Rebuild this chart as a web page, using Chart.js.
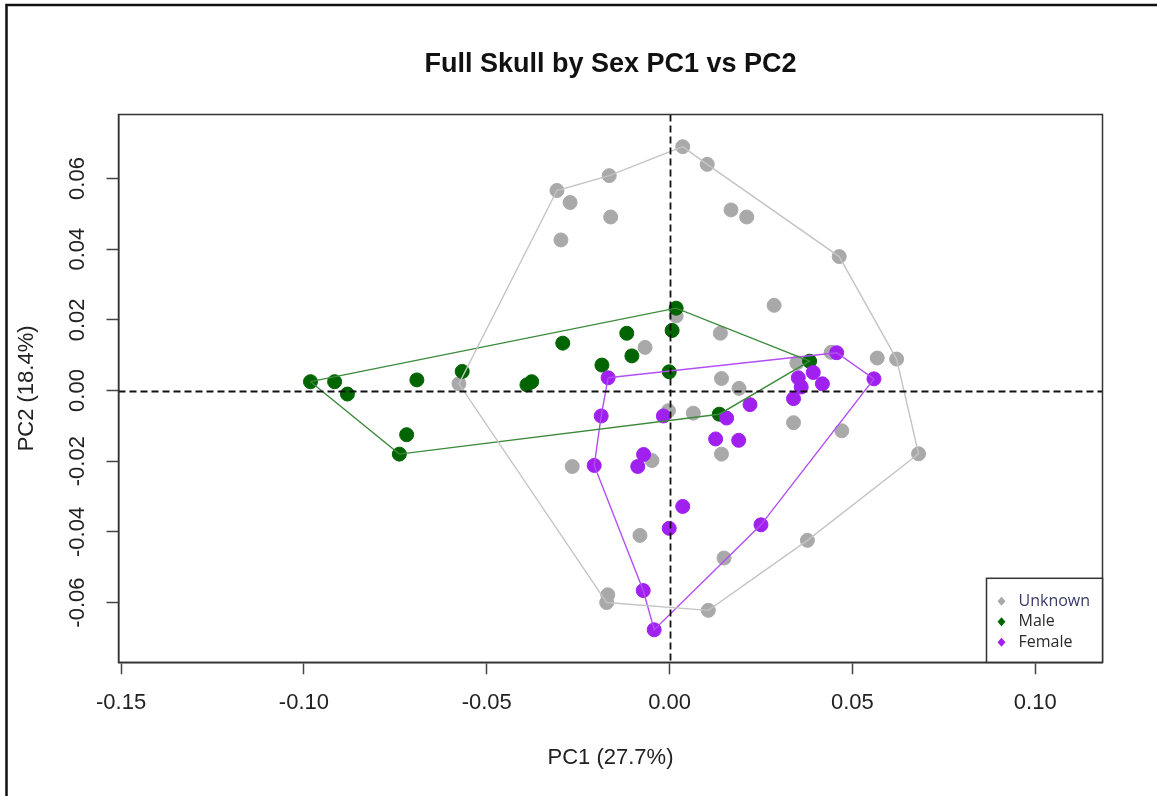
<!DOCTYPE html>
<html lang="en">
<head>
  <meta charset="UTF-8" />
  <title>Full Skull by Sex PC1 vs PC2</title>
  <script src="https://cdn.jsdelivr.net/npm/chart.js"></script>
  <style>
    html, body { margin: 0; padding: 0; background: #fff; }
    #wrap { position: relative; width: 1157px; height: 796px; }
  </style>
</head>
<body>
  <div id="wrap"><canvas id="pca" width="1157" height="796"></canvas></div>

  <script>
    const chartTitle = 'Full Skull by Sex PC1 vs PC2';
    const xTitle = 'PC1 (27.7%)';
    const yTitle = 'PC2 (18.4%)';
    const groups = ['Unknown', 'Male', 'Female'];

    const xTicks = [-0.15, -0.10, -0.05, 0.00, 0.05, 0.10];
    const yTicks = [-0.06, -0.04, -0.02, 0.00, 0.02, 0.04, 0.06];
    const xLimits = [-0.1507, 0.1184];
    const yLimits = [-0.0769, 0.0781];
    const zeroLinesX = [0];
    const zeroLinesY = [0];

    // PC scores
    const unknownPC1 = [0.0036, 0.0103, -0.0165, -0.0308, -0.0272, -0.0161, -0.0297, 0.0168, 0.0211, 0.0464,
                        0.0286, 0.0018, 0.0139, -0.0067, 0.0442, 0.0568, 0.0621, 0.0348, 0.0142, 0.0190,
                        -0.0576, 0.0065, -0.0003, 0.0339, 0.0471, 0.0681, 0.0142, -0.0048, -0.0266, -0.0081,
                        0.0149, 0.0377, -0.0169, -0.0172, 0.0106];
    const unknownPC2 = [0.0690, 0.0640, 0.0608, 0.0566, 0.0532, 0.0491, 0.0426, 0.0511, 0.0491, 0.0379,
                        0.0241, 0.0211, 0.0162, 0.0122, 0.0108, 0.0092, 0.0089, 0.0078, 0.0034, 0.0006,
                        0.0019, -0.0064, -0.0057, -0.0091, -0.0114, -0.0179, -0.0180, -0.0198, -0.0215, -0.0410,
                        -0.0474, -0.0424, -0.0578, -0.0600, -0.0622];
    const unknownHull = [0, 1, 9, 16, 25, 31, 34, 33, 20, 3, 2];

    const malePC1 = [-0.0982, -0.0916, -0.0881, -0.0691, -0.0567, -0.0719, -0.0739, -0.0390, -0.0377, -0.0292,
                     -0.0185, -0.0117, -0.0103, 0.0018, 0.0007, -0.0001, 0.0136, 0.0383];
    const malePC2 = [0.0025, 0.0025, -0.0010, 0.0030, 0.0054, -0.0125, -0.0180, 0.0016, 0.0025, 0.0134,
                     0.0072, 0.0162, 0.0098, 0.0233, 0.0170, 0.0053, -0.0067, 0.0083];
    const maleHull = [0, 13, 17, 16, 6];

    const femalePC1 = [-0.0168, 0.0457, 0.0559, 0.0393, 0.0352, 0.0418, 0.0360, 0.0339, 0.0220, 0.0156,
                       -0.0017, -0.0187, 0.0126, 0.0189, -0.0071, -0.0087, -0.0206, 0.0036, -0.0001, 0.0250,
                       -0.0072, -0.0042];
    const femalePC2 = [0.0036, 0.0107, 0.0033, 0.0051, 0.0036, 0.0019, 0.0010, -0.0023, -0.0040, -0.0078,
                       -0.0072, -0.0072, -0.0137, -0.0141, -0.0181, -0.0215, -0.0212, -0.0328, -0.0390, -0.0380,
                       -0.0566, -0.0677];
    const femaleHull = [0, 1, 2, 19, 21, 20, 16, 11];

    const pointColors = ['#a9a9a9', '#006400', '#a020f0'];
    const hullColors = ['#c4c4c4', '#3d8a3d', '#b24ef4'];

    const toPoints = (xs, ys) => xs.map((x, i) => ({ x: x, y: ys[i] }));
    function hullPoints(xs, ys, idx) {
      const pts = idx.map(i => ({ x: xs[i], y: ys[i] }));
      pts.push(pts[0]);
      return pts;
    }

    const series = [
      [unknownPC1, unknownPC2, unknownHull],
      [malePC1, malePC2, maleHull],
      [femalePC1, femalePC2, femaleHull]
    ];

    const datasets = [];
    series.forEach(([xs, ys, hull], g) => {
      datasets.push({
        label: groups[g],
        data: toPoints(xs, ys),
        backgroundColor: pointColors[g],
        borderColor: pointColors[g],
        pointRadius: 7,
        pointBorderWidth: 1,
        order: 10 - g
      });
      datasets.push({
        label: groups[g] + ' hull',
        data: hullPoints(xs, ys, hull),
        showLine: true,
        borderColor: hullColors[g],
        borderWidth: 1.4,
        pointRadius: 0,
        fill: false,
        tension: 0,
        order: 1
      });
    });

    const FONT = '"Liberation Sans", Arial, sans-serif';

    const framePlugin = {
      id: 'frame',
      afterDraw(chart) {
        const { ctx, chartArea: a, scales } = chart;
        ctx.save();
        // dashed zero lines
        ctx.beginPath();
        ctx.rect(a.left, a.top, a.right - a.left, a.bottom - a.top);
        ctx.clip();
        ctx.strokeStyle = '#111';
        ctx.lineWidth = 1.8;
        ctx.setLineDash([7, 4]);
        zeroLinesX.forEach(v => {
          const px = Math.round(scales.x.getPixelForValue(v)) + 0.5;
          ctx.beginPath(); ctx.moveTo(px, a.top); ctx.lineTo(px, a.bottom); ctx.stroke();
        });
        zeroLinesY.forEach(v => {
          const py = Math.round(scales.y.getPixelForValue(v)) + 0.5;
          ctx.beginPath(); ctx.moveTo(a.left, py); ctx.lineTo(a.right, py); ctx.stroke();
        });
        ctx.restore();

        ctx.save();
        // plot box
        ctx.strokeStyle = '#333';
        ctx.lineWidth = 1.5;
        ctx.strokeRect(a.left, a.top, a.right - a.left, a.bottom - a.top);

        // outer figure frame
        ctx.strokeStyle = '#111';
        ctx.lineWidth = 2.5;
        ctx.beginPath();
        ctx.moveTo(6.5, chart.height + 5);
        ctx.lineTo(6.5, 5);
        ctx.lineTo(chart.width + 5, 5);
        ctx.stroke();

        // title over the plot region
        ctx.fillStyle = '#111';
        ctx.font = 'bold 27px ' + FONT;
        ctx.textAlign = 'center';
        ctx.textBaseline = 'alphabetic';
        ctx.fillText(chartTitle, (a.left + a.right) / 2, 72);

        // legend in the bottom right corner
        const w = 116, h = 84;
        const lx = a.right - w, ly = a.bottom - h;
        ctx.fillStyle = '#fff';
        ctx.fillRect(lx, ly, w, h);
        ctx.strokeStyle = '#333';
        ctx.lineWidth = 1.5;
        ctx.strokeRect(lx, ly, w, h);
        ctx.font = '16px "Open Sans", "Noto Sans", sans-serif';
        ctx.textAlign = 'left';
        ctx.textBaseline = 'middle';
        groups.forEach((name, i) => {
          const cy = ly + 23 + i * 20.5;
          const cx = lx + 15;
          ctx.fillStyle = pointColors[i];
          ctx.beginPath();
          ctx.moveTo(cx, cy - 4.5); ctx.lineTo(cx + 4, cy); ctx.lineTo(cx, cy + 4.5); ctx.lineTo(cx - 4, cy);
          ctx.closePath(); ctx.fill();
          ctx.fillStyle = i === 0 ? '#3a3a6a' : '#2a2a2a';
          ctx.fillText(name, lx + 32, cy);
        });
        ctx.restore();
      }
    };

    new Chart(document.getElementById('pca').getContext('2d'), {
      type: 'scatter',
      data: { datasets: datasets },
      options: {
        responsive: false,
        animation: false,
        events: [],
        layout: { padding: { left: 13.8, right: 54.5, top: 114.5, bottom: 25 } },
        plugins: {
          legend: { display: false },
          title: { display: false },
          tooltip: { enabled: false }
        },
        scales: {
          x: {
            type: 'linear',
            min: xLimits[0],
            max: xLimits[1],
            afterBuildTicks: s => { s.ticks = xTicks.map(v => ({ value: v })); },
            afterFit: s => { s.height = 108.7; },
            grid: { drawOnChartArea: false, drawTicks: true, tickLength: 12, tickColor: '#444', tickWidth: 1.5 },
            border: { display: true, color: '#333', width: 1.5 },
            ticks: {
              padding: 15,
              maxRotation: 0,
              color: '#222',
              font: { family: FONT, size: 22 },
              callback: v => (Math.abs(v) < 1e-9 ? 0 : v).toFixed(2)
            },
            title: { display: true, text: xTitle, color: '#222', padding: 0, font: { family: FONT, size: 22 } }
          },
          y: {
            type: 'linear',
            min: yLimits[0],
            max: yLimits[1],
            afterBuildTicks: s => { s.ticks = yTicks.map(v => ({ value: v })); },
            afterFit: s => { s.width = 104.7; },
            grid: { drawOnChartArea: false, drawTicks: true, tickLength: 12, tickColor: '#444', tickWidth: 1.5 },
            border: { display: true, color: '#333', width: 1.5 },
            ticks: {
              padding: 3.5,
              minRotation: 90,
              maxRotation: 90,
              crossAlign: 'center',
              color: '#222',
              font: { family: FONT, size: 22 },
              callback: v => (Math.abs(v) < 1e-9 ? 0 : v).toFixed(2)
            },
            title: { display: true, text: yTitle, color: '#222', padding: 0, font: { family: FONT, size: 22 } }
          }
        }
      },
      plugins: [framePlugin]
    });
  </script>
</body>
</html>
